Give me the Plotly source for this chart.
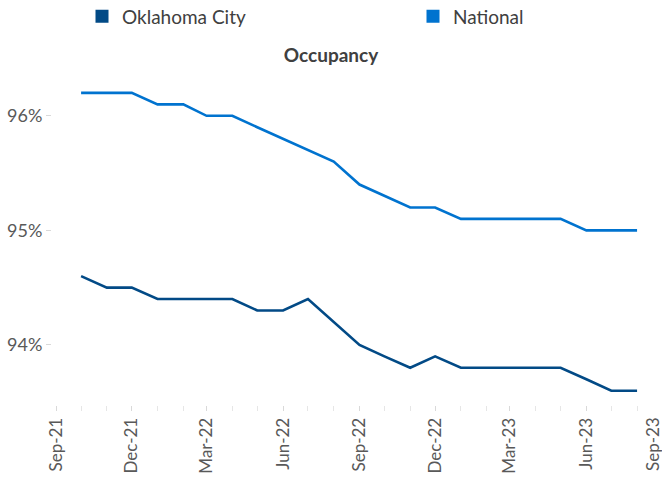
import plotly.graph_objects as go

months = ["2021-10-01", "2021-11-01", "2021-12-01", "2022-01-01", "2022-02-01", "2022-03-01",
          "2022-04-01", "2022-05-01", "2022-06-01", "2022-07-01", "2022-08-01", "2022-09-01",
          "2022-10-01", "2022-11-01", "2022-12-01", "2023-01-01", "2023-02-01", "2023-03-01",
          "2023-04-01", "2023-05-01", "2023-06-01", "2023-07-01", "2023-08-01"]
okc = [94.6, 94.5, 94.5, 94.4, 94.4, 94.4, 94.4, 94.3, 94.3, 94.4, 94.2, 94.0,
       93.9, 93.8, 93.9, 93.8, 93.8, 93.8, 93.8, 93.8, 93.7, 93.6, 93.6]
national = [96.2, 96.2, 96.2, 96.1, 96.1, 96.0, 96.0, 95.9, 95.8, 95.7, 95.6, 95.4,
            95.3, 95.2, 95.2, 95.1, 95.1, 95.1, 95.1, 95.1, 95.0, 95.0, 95.0]
series_names = ["Oklahoma City", "National"]
y_ticks = [94, 95, 96]
y_tick_text = ["94%", "95%", "96%"]

C_OKC = "#024A86"
C_NAT = "#0073CF"
FONT = "Lato, Open Sans, sans-serif"

fig = go.Figure()
fig.add_trace(go.Scatter(x=months, y=okc, mode="lines", line=dict(color=C_OKC, width=2.6),
                         showlegend=False, name=series_names[0]))
fig.add_trace(go.Scatter(x=months, y=national, mode="lines", line=dict(color=C_NAT, width=2.6),
                         showlegend=False, name=series_names[1]))
# legend swatches (square keys), one legend box per series
for nm, c, lg in zip(series_names, [C_OKC, C_NAT], ["legend", "legend2"]):
    fig.add_trace(go.Scatter(x=[None], y=[None], mode="markers", name=nm, legend=lg,
                             marker=dict(symbol="square", size=13, color=c)))

leg_common = dict(orientation="h", xref="container", yref="container",
                  xanchor="left", y=1 - 16.5 / 477, yanchor="middle",
                  font=dict(size=19, color="#404040", family=FONT), itemwidth=30,
                  bgcolor="rgba(0,0,0,0)")

fig.update_layout(
    width=662, height=477,
    margin=dict(l=52, r=0, t=70, b=72),
    paper_bgcolor="white", plot_bgcolor="white",
    font=dict(family=FONT, color="#404040"),
    title=dict(text="<b>Occupancy</b>", x=0.5, xref="container", xanchor="center",
               y=1 - 49 / 477, yref="container", yanchor="top",
               font=dict(size=19, color="#404040", family=FONT)),
    legend=dict(x=82 / 662, **leg_common),
    legend2=dict(x=413 / 662, **leg_common),
    xaxis=dict(type="date", range=["2021-08-27", "2023-08-31"], automargin=False,
               tick0="2021-09-01", dtick="M3", tickformat="%b-%y", tickangle=-90,
               ticks="outside", ticklen=5, tickcolor="#d9d9d9",
               minor=dict(dtick="M1", tick0="2021-09-01", ticks="outside", ticklen=5, tickcolor="#e6e6e6"),
               showgrid=False, zeroline=False, showline=False,
               tickfont=dict(size=17, color="#595959", family=FONT)),
    yaxis=dict(range=[93.475, 96.4], tickmode="array", tickvals=y_ticks, ticktext=y_tick_text,
               automargin=False,
               ticks="outside", ticklen=5, tickcolor="#d9d9d9",
               showgrid=False, zeroline=False, showline=False,
               tickfont=dict(size=18, color="#595959", family=FONT)),
)
# final tick label (Sep-23) sits just past the plotted range
fig.add_annotation(text="Sep-23", textangle=-90, xref="paper", yref="paper",
                   x=(652 - 52) / 610, y=0, yshift=-10, xanchor="center", yanchor="top",
                   showarrow=False, font=dict(size=17, color="#595959", family=FONT))

fig.write_html("out.html", post_script="document.body.style.margin='0';",
               config={"displayModeBar": False})
